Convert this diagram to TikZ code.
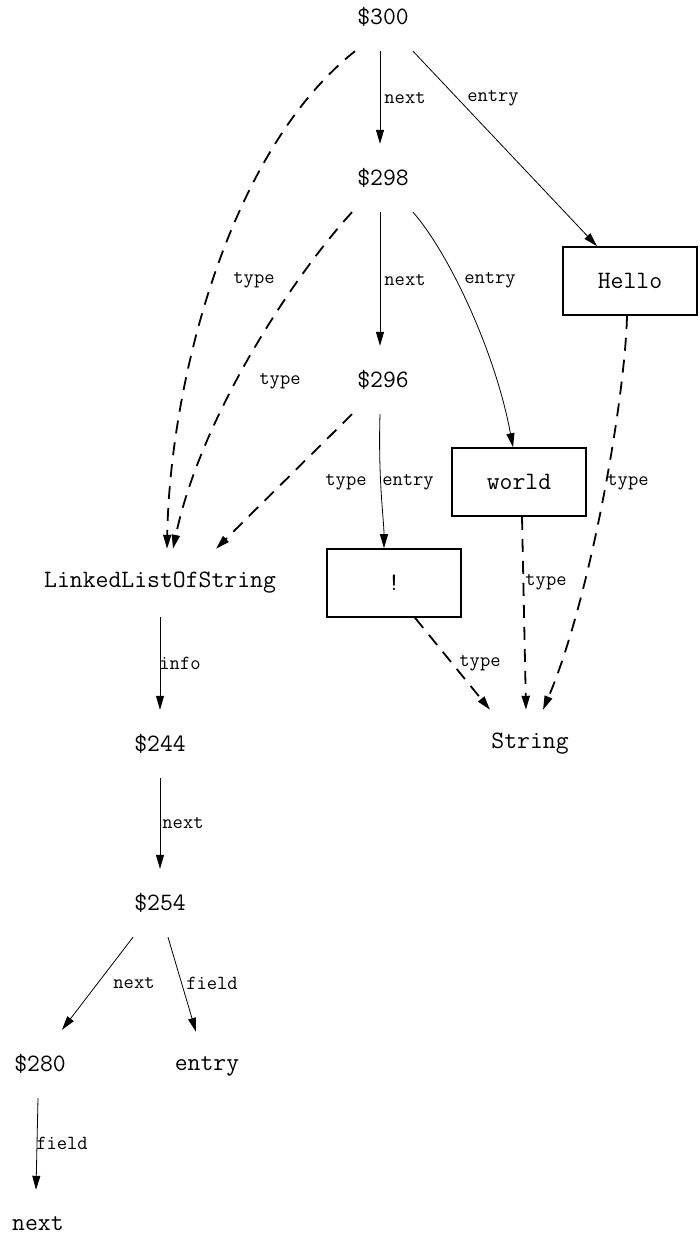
\documentclass[tikz,border=0pt]{standalone}
\usepackage{fontspec}
\usetikzlibrary{arrows.meta}
\tikzset{
  obj/.style={font=\ttfamily\fontsize{25}{28}\selectfont, minimum height=68pt, inner xsep=4pt, inner ysep=0pt},
  boxed/.style={obj, draw, line width=1.6pt, minimum width=134pt},
  lbl/.style={font=\ttfamily\fontsize{20}{22}\selectfont, inner sep=0pt},
  tip/.style={-{Triangle[length=14pt,width=8pt]}},
  ref/.style={tip, line width=0.8pt},
  typ/.style={tip, line width=1.8pt, dash pattern=on 13pt off 9pt}
}
\begin{document}
\begin{tikzpicture}[x=1pt, y=-1pt]
\useasboundingbox (0,0) rectangle (699,1236);

% objects
\node[obj] (n300) at (383,17) {\$300};
\node[obj] (n298) at (383,178) {\$298};
\node[obj] (n296) at (383,380) {\$296};
\node[boxed] (hello) at (630,281) {Hello};
\node[boxed] (world) at (519,482) {world};
\node[boxed] (bang) at (394,583) {!};
\node[obj] (ll) at (160,583) {LinkedListOfString};
\node[obj] (str) at (530,744) {String};
\node[obj] (n244) at (160,744) {\$244};
\node[obj] (n254) at (160,903) {\$254};
\node[obj] (n280) at (40,1064) {\$280};
\node[obj] (fentry) at (207,1066) {entry};
\node[obj] (fnext) at (38,1224) {next};

% list links
\draw[ref] ([xshift=-3pt]n300.south) -- ([xshift=-3pt]n298.north);
\draw[ref] ([xshift=30pt]n300.south) -- ([xshift=-33pt]hello.north);
\draw[typ] ([xshift=-28pt]n300.south) .. controls (230,150) and (170,380) .. ([xshift=7pt]ll.north);

\draw[ref] ([xshift=-3pt]n298.south) -- ([xshift=-3pt]n296.north);
\draw[ref] ([xshift=30pt]n298.south) .. controls (448,252) and (495,350) .. ([xshift=-6pt]world.north);
\draw[typ] ([xshift=-31pt]n298.south) .. controls (290,280) and (200,420) .. ([xshift=13pt]ll.north);

\draw[ref] ([xshift=-3pt]n296.south) .. controls (378,480) and (384,520) .. ([xshift=-10pt]bang.north);
\draw[typ] ([xshift=-31pt]n296.south) -- ([xshift=56pt]ll.north);

% string types
\draw[typ] ([xshift=-3pt]hello.south) .. controls (625,400) and (590,600) .. ([xshift=13pt]str.north);
\draw[typ] ([xshift=3pt]world.south) -- ([xshift=-4pt]str.north);
\draw[typ] ([xshift=21pt]bang.south) -- ([xshift=-40pt]str.north);

% type structure
\draw[ref] (ll.south) -- (n244.north);
\draw[ref] (n244.south) -- (n254.north);
\draw[ref] ([xshift=-27pt]n254.south) -- ([xshift=22pt]n280.north);
\draw[ref] ([xshift=8pt]n254.south) -- ([xshift=-11pt]fentry.north);
\draw[ref] ([xshift=-2pt]n280.south) -- ([xshift=-2pt]fnext.north);

% edge labels
\node[lbl] (l1) at (405,98) {next};
\node[lbl] (l2) at (493,98) {entry};
\node[lbl] (l3) at (254,280) {type};
\node[lbl] (l4) at (405,280) {next};
\node[lbl] (l5) at (490,280) {entry};
\node[lbl] (l6) at (280,381) {type};
\node[lbl] (l7) at (346,482) {type};
\node[lbl] (l8) at (408,482) {entry};
\node[lbl] (l9) at (628,482) {type};
\node[lbl] (l10) at (546,582) {type};
\node[lbl] (l11) at (480,663) {type};
\node[lbl] (l12) at (180,663) {info};
\node[lbl] (l13) at (183,823) {next};
\node[lbl] (l14) at (134,983) {next};
\node[lbl] (l15) at (212,983) {field};
\node[lbl] (l16) at (62,1143) {field};
\end{tikzpicture}
\end{document}
